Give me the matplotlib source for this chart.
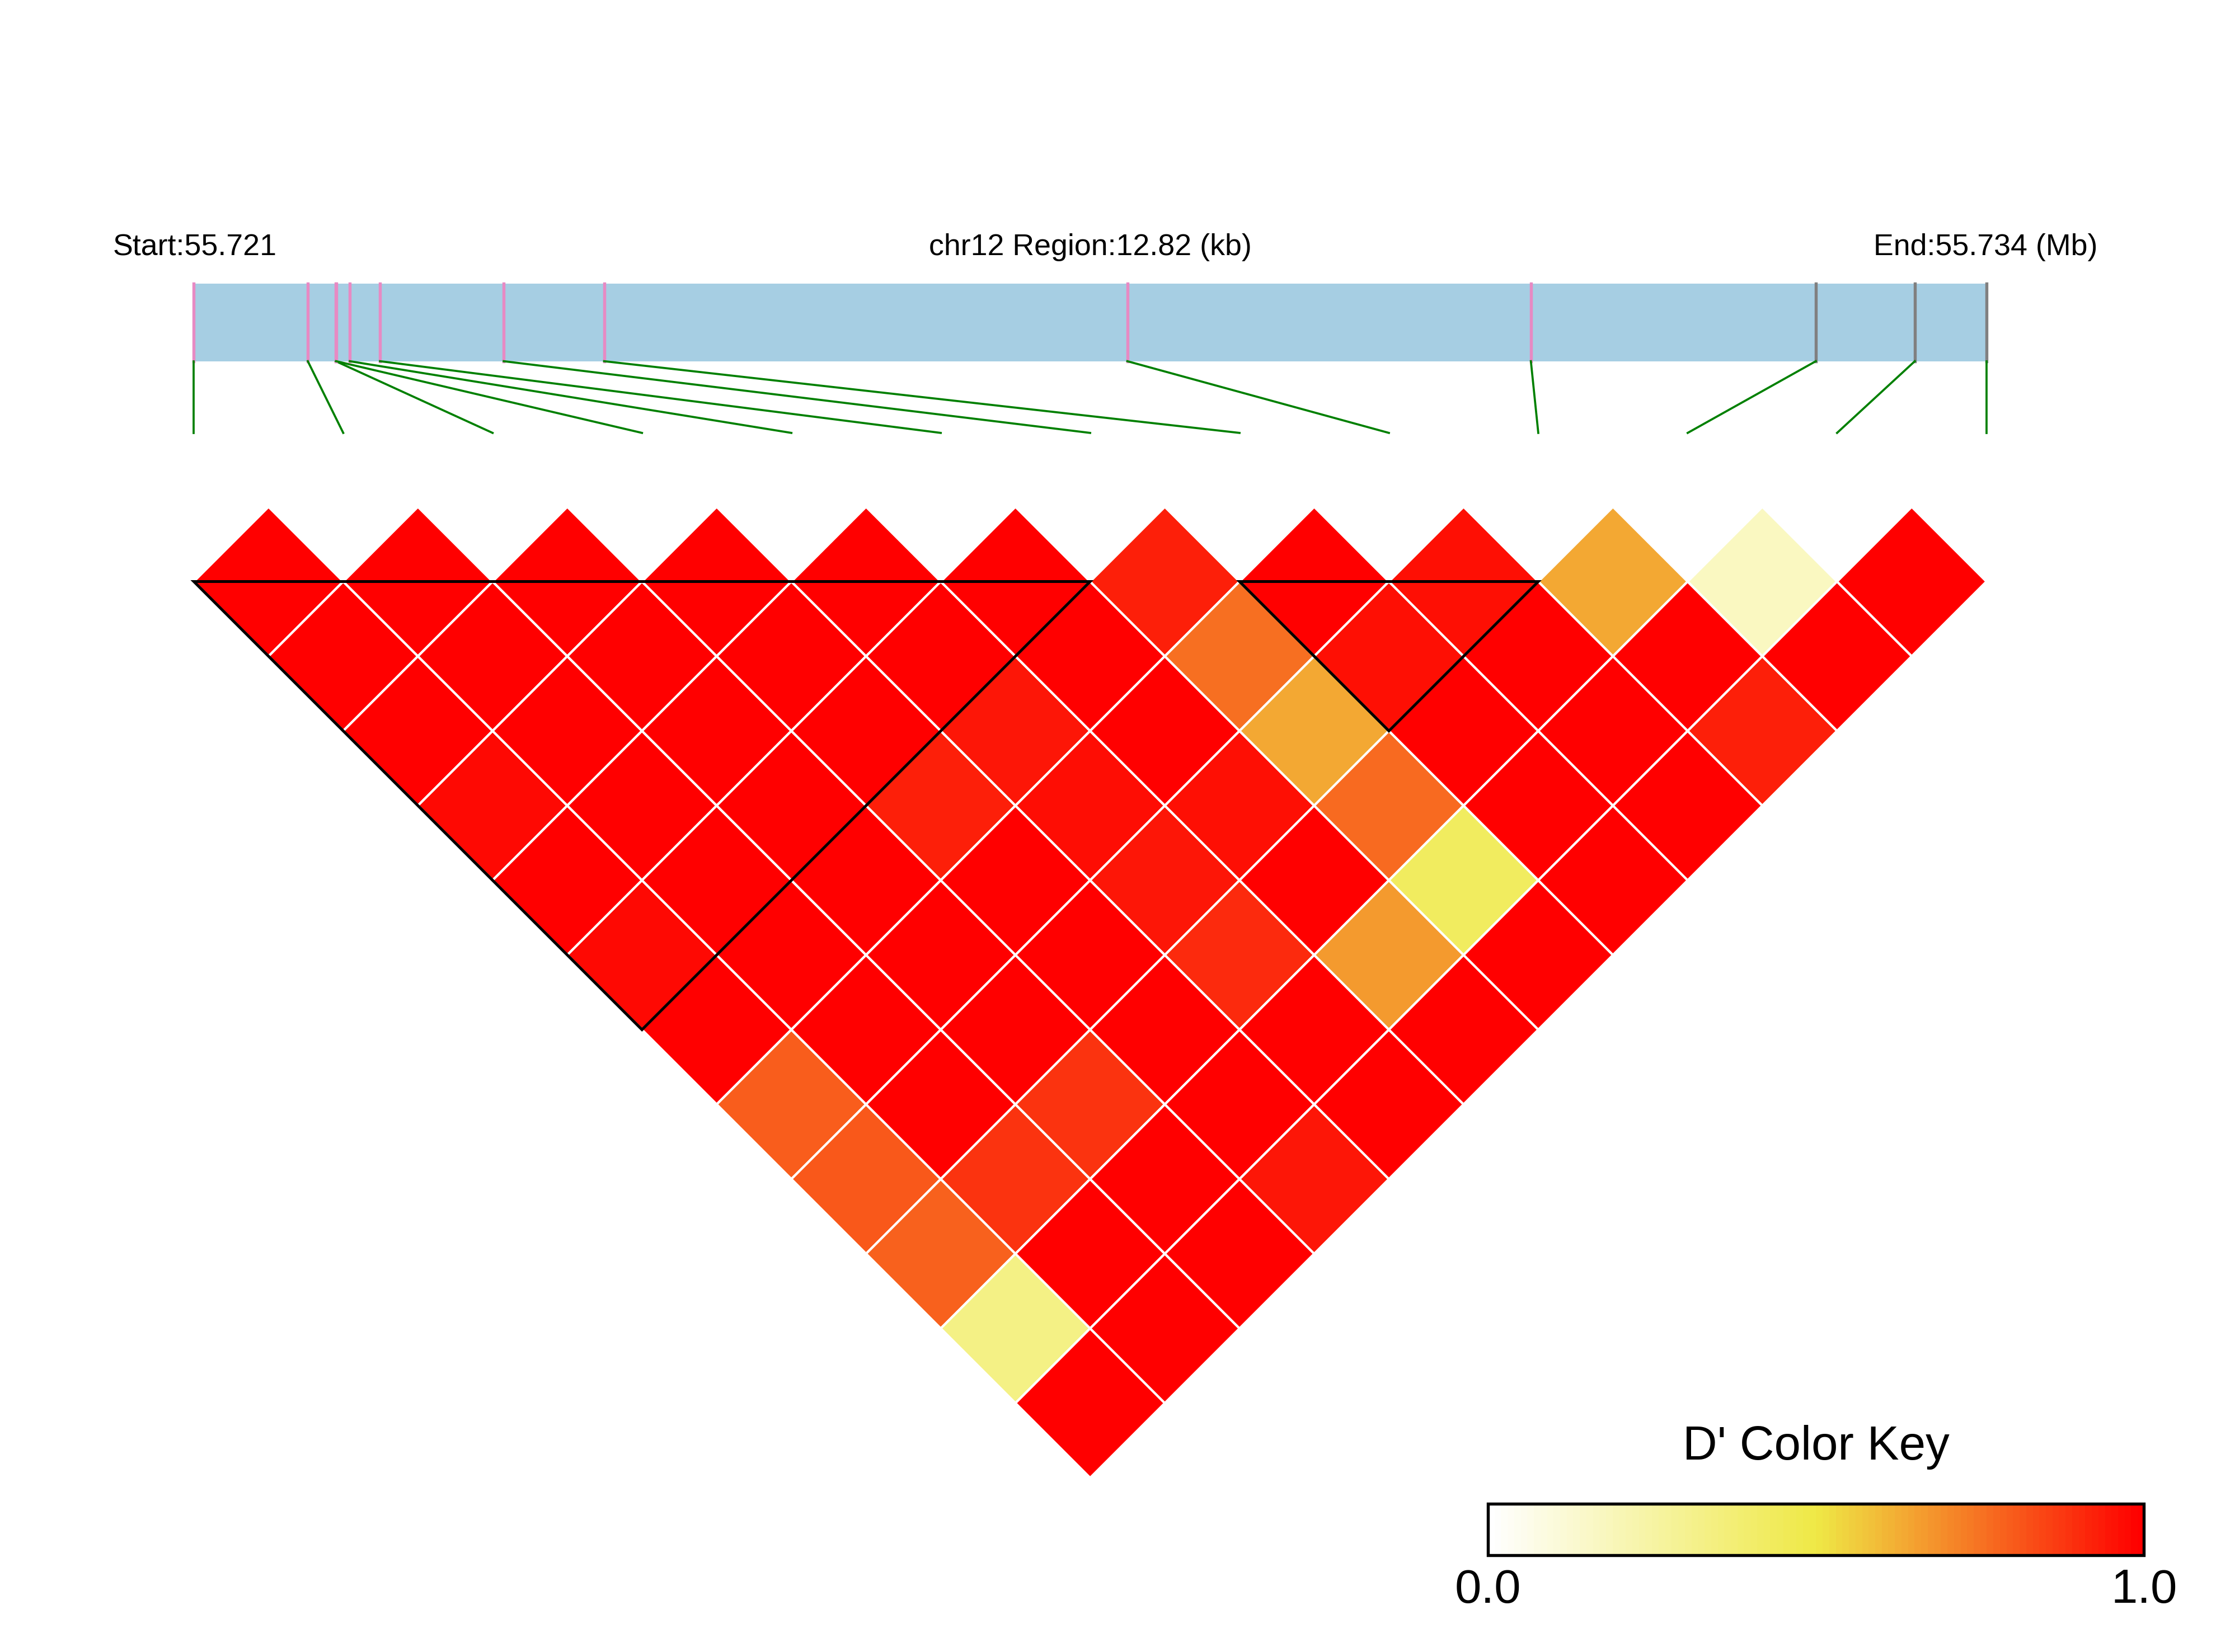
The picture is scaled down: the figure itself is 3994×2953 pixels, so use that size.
import numpy as np
import matplotlib
matplotlib.use("Agg")
import matplotlib.pyplot as plt
from matplotlib.colors import LinearSegmentedColormap, Normalize
from matplotlib.collections import PolyCollection
from matplotlib.patches import Rectangle, Polygon

plt.rcParams['font.family'] = ['Liberation Sans', 'DejaVu Sans']

# SNP positions (bp offset from region start, chr12:55.721 Mb)
snp_pos = [0, 815, 1015, 1018, 1115, 1331, 2216, 2934, 6676, 9562, 11600, 12308, 12820]
snp_in_block = [True] * 10 + [False] * 3

# pairwise D' (row i holds SNP i vs SNP i+1 .. 12)
dprime_rows = [
    [1.0, 1.0, 1.0, 0.98, 1.0, 0.98, 1.0, 0.80, 0.81, 0.79, 0.33, 1.0],
    [1.0, 1.0, 1.0, 1.0, 1.0, 1.0, 1.0, 1.0, 0.89, 1.0, 1.0],
    [1.0, 1.0, 1.0, 1.0, 1.0, 1.0, 1.0, 0.89, 1.0, 1.0],
    [1.0, 1.0, 1.0, 0.93, 1.0, 1.0, 1.0, 1.0, 0.95],
    [1.0, 1.0, 0.95, 0.97, 0.95, 0.91, 1.0, 1.0],
    [1.0, 1.0, 1.0, 0.965, 1.0, 0.67, 1.0],
    [0.93, 0.76, 0.64, 0.77, 0.43, 1.0],
    [1.0, 0.965, 1.0, 1.0, 1.0],
    [0.965, 1.0, 1.0, 1.0],
    [0.64, 1.0, 0.93],
    [0.17, 1.0],
    [1.0],
]

# LD blocks as (first SNP, last SNP)
blocks = [(0, 6), (7, 9)]

region_label = "chr12 Region:12.82 (kb)"
start_label = "Start:55.721"
end_label = "End:55.734 (Mb)"

n = len(snp_pos)
cmap = LinearSegmentedColormap.from_list(
    "ld", [(0.0, "#FFFFFF"), (0.5, "#EFE946"), (1.0, "#FF0000")])
norm = Normalize(0, 1)

fig = plt.figure(figsize=(3994 / 300, 2953 / 300), dpi=300)
ax = fig.add_axes([0, 0, 1, 1])
ax.axis('off')

# LD diamonds
polys, vals = [], []
for i, row in enumerate(dprime_rows):
    for k, v in enumerate(row):
        j = i + 1 + k
        cx = (i + j) / 2
        cy = -(j - i - 1) * 0.5
        polys.append([(cx - 0.5, cy), (cx, cy + 0.5), (cx + 0.5, cy), (cx, cy - 0.5)])
        vals.append(v)
pc = PolyCollection(polys, facecolors=cmap(norm(np.array(vals))),
                    edgecolors='white', linewidths=1.0, zorder=2)
ax.add_collection(pc)

# block outlines
for a, b in blocks:
    tri = Polygon([(a, 0), (b, 0), ((a + b) / 2, -(b - a) / 2)], closed=True,
                  fill=False, edgecolor='black', linewidth=1.2, zorder=3)
    ax.add_patch(tri)

# gene bar + SNP marks
bar_bot, bar_top, link_end = 1.475, 1.995, 0.995
pos = np.array(snp_pos, dtype=float)
bx = (pos - pos[0]) / (pos[-1] - pos[0]) * (n - 1)
ax.add_patch(Rectangle((0, bar_bot), n - 1, bar_top - bar_bot,
                       facecolor='#A6CEE3', edgecolor='none', zorder=1))
for k in range(n):
    col = '#E78AC3' if snp_in_block[k] else '#808080'
    ax.plot([bx[k], bx[k]], [bar_bot, bar_top], color=col, lw=1.3, zorder=2)
    ax.plot([bx[k], k], [bar_bot, link_end], color='green', lw=0.9, zorder=2)

ax.text(-0.541, 2.185, start_label, fontsize=12.9, ha='left', va='baseline')
ax.text((n - 1) / 2, 2.185, region_label, fontsize=12.9, ha='center', va='baseline')
ax.text(12.744, 2.185, end_label, fontsize=12.9, ha='right', va='baseline')

# colour key
cb_x0, cb_x1, cb_y0, cb_y1 = 8.664, 13.055, -6.517, -6.172
grad = np.linspace(0, 1, 100).reshape(1, -1)
ax.imshow(grad, cmap=cmap, norm=norm, extent=[cb_x0, cb_x1, cb_y0, cb_y1],
          aspect='auto', interpolation='nearest', zorder=2)
ax.add_patch(Rectangle((cb_x0, cb_y0), cb_x1 - cb_x0, cb_y1 - cb_y0,
                       fill=False, edgecolor='black', linewidth=1.3, zorder=3))
ax.text((cb_x0 + cb_x1) / 2, -5.878, "D' Color Key", fontsize=20.5,
        ha='center', va='baseline')
ax.text(cb_x0, -6.836, "0.0", fontsize=20.5, ha='center', va='baseline')
ax.text(cb_x1, -6.836, "1.0", fontsize=20.5, ha='center', va='baseline')

ax.set_xlim(-1.2977, 13.664)
ax.set_ylim(-7.166, 3.893)
fig.savefig("out.png", dpi=300)
